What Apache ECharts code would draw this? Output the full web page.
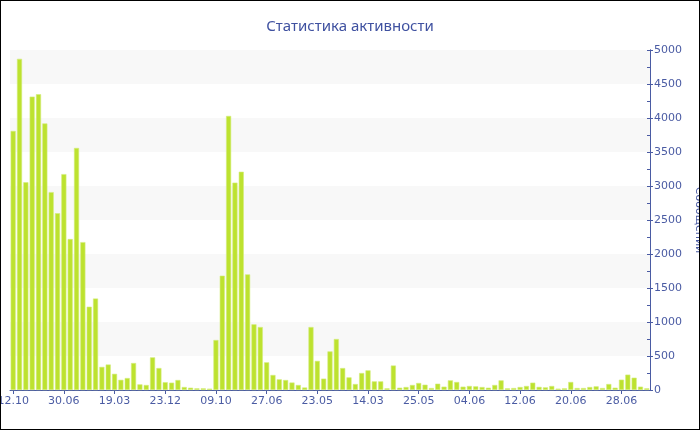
<!DOCTYPE html>
<html>
<head>
<meta charset="utf-8">
<script src="https://cdn.jsdelivr.net/npm/echarts@6/dist/echarts.min.js"></script>
<style>
html,body{margin:0;padding:0;background:#fff;}
#wrap{width:700px;height:430px;box-sizing:border-box;border:1px solid #000;position:relative;overflow:hidden;}
#chart{position:absolute;left:-1px;top:-1px;width:700px;height:430px;}
</style>
</head>
<body>
<div id="wrap"><div id="chart"></div></div>
<script>
const titleText = 'Статистика активности';
const axisName = 'Сообщений';
const tickLabels = ['12.10','30.06','19.03','23.12','09.10','27.06','23.05','14.03','25.05','04.06','12.06','20.06','28.06'];
const categories = [
  '12.10','12.11','13.12','14.01','14.02','17.03','18.04','28.05',
  '30.06','31.07','31.08','01.10','01.11','02.12','01.01','15.02',
  '19.03','20.04','21.05','21.06','22.07','22.08','22.09','22.10',
  '23.12','25.01','26.02','29.03','30.04','01.06','03.07','06.08',
  '09.10','10.11','11.12','11.01','11.02','13.03','14.04','15.05',
  '27.06','07.08','18.09','29.10','09.12','19.01','01.03','12.04',
  '23.05','29.06','05.08','11.09','18.10','24.11','31.12','06.02',
  '14.03','23.03','01.04','10.04','19.04','28.04','07.05','16.05',
  '25.05','26.05','27.05','28.05','30.05','31.05','01.06','02.06',
  '04.06','05.06','06.06','07.06','08.06','09.06','10.06','11.06',
  '12.06','13.06','14.06','15.06','16.06','17.06','18.06','19.06',
  '20.06','21.06','22.06','23.06','24.06','25.06','26.06','27.06',
  '28.06','29.06','30.06','01.07','02.07'
];
const messages = [
  3810,4870,3055,4315,4350,3920,2910,2600,
  3175,2220,3560,2175,1225,1345,340,375,
  238,150,176,397,83,74,480,323,
  115,108,147,44,34,25,25,20,
  735,1681,4030,3050,3210,1700,966,926,
  407,221,157,147,110,74,37,926,
  428,167,568,750,323,186,88,250,
  289,127,127,25,360,34,44,74,
  103,78,29,93,49,142,118,49,
  59,54,44,34,74,142,25,29,
  44,59,108,46,39,59,20,25,
  118,29,29,44,54,29,88,34,
  152,226,181,49,25
];

const blue = '#4a5ba3';
const chart = echarts.init(document.getElementById('chart'), null, {renderer:'canvas'});
chart.setOption({
  animation:false,
  backgroundColor:'#fff',
  title:{
    text:titleText, left:'center', top:14,
    textStyle:{color:'#3f51a0', fontFamily:'Noto Sans', fontSize:15, fontWeight:'normal'}
  },
  grid:{left:10, right:50, top:50, bottom:40, containLabel:false, outerBoundsMode:'none'},
  xAxis:{
    type:'category', data:categories,
    axisLine:{lineStyle:{color:blue, width:1}},
    axisTick:{show:true, alignWithLabel:true, interval:7, length:4, lineStyle:{color:blue}},
    axisLabel:{interval:7, color:blue, fontFamily:'DejaVu Sans', fontSize:11, margin:6,
      formatter:function(v){ return tickLabels.indexOf(v) >= 0 ? v : v; }},
    splitLine:{show:false}
  },
  yAxis:[{
    type:'value', position:'right', min:0, max:5000, interval:500,
    name:axisName, nameLocation:'middle', nameGap:34, nameRotate:-90,
    nameTextStyle:{color:blue, fontFamily:'DejaVu Sans', fontSize:11},
    axisLine:{show:true, lineStyle:{color:blue}},
    axisTick:{show:true, inside:true, length:3, lineStyle:{color:blue}},
    minorTick:{show:true, splitNumber:2, length:3, lineStyle:{color:blue}},
    axisLabel:{color:blue, fontFamily:'DejaVu Sans', fontSize:11, margin:4,
      formatter:function(v){ return String(v); }},
    splitLine:{show:false},
    splitArea:{show:true, areaStyle:{color:['#ffffff','#f8f8f8']}}
  },{
    type:'value', position:'right', min:0, max:5000, interval:500,
    axisLine:{show:true, lineStyle:{color:blue}},
    axisTick:{show:true, inside:false, length:3, lineStyle:{color:blue}},
    axisLabel:{show:false},
    splitLine:{show:false}
  }],
  series:[{
    type:'bar', data:messages, yAxisIndex:0,
    barCategoryGap:'20%',
    itemStyle:{color:'#bde22f', borderColor:'#d4ed7c', borderWidth:0.6}
  }]
});
</script>
</body>
</html>
